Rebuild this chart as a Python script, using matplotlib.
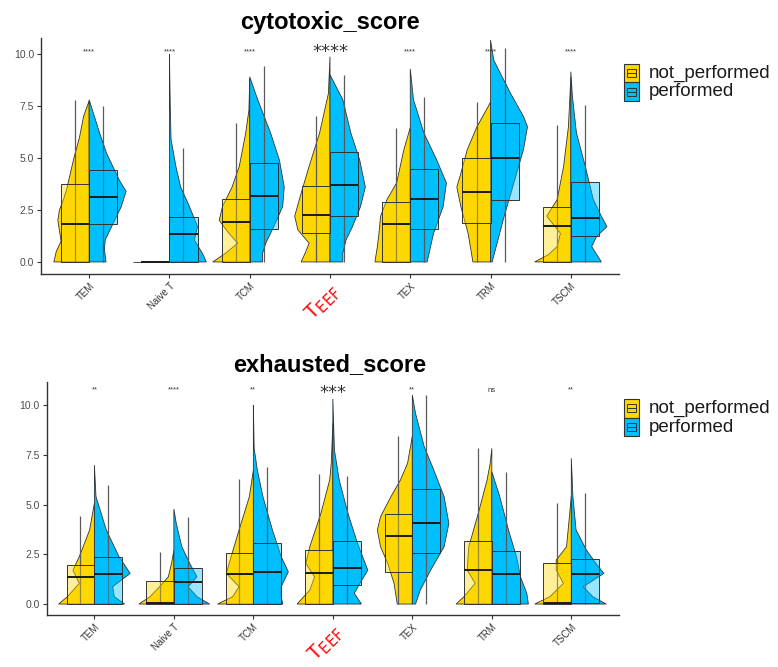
import matplotlib
matplotlib.use("Agg")
import matplotlib.pyplot as plt
from matplotlib.patches import Polygon, Rectangle
from matplotlib.colors import to_rgba

plt.rcParams['font.family'] = ['Liberation Sans', 'DejaVu Sans']

cell_types = ["TEM", "Naive T", "TCM", "TEEF", "TEX", "TRM", "TSCM"]
groups = ["not_performed", "performed"]
group_colors = ["#FFD700", "#00BFFF"]

# box stats per cell type: [whisker_low, q1, median, q3, whisker_high]
cyto_np_box = [[0, 0, 1.83, 3.73, 7.79], [0, 0, 0, 0, 0], [0, 0, 1.91, 3.03, 6.67],
               [0, 1.38, 2.26, 3.67, 7.03], [0, 0, 1.81, 2.90, 6.46],
               [0, 1.89, 3.35, 4.98, 7.70], [0, 0, 1.75, 2.66, 6.59]]
cyto_p_box = [[0, 1.83, 3.14, 4.41, 7.50], [0, 0, 1.33, 2.16, 5.46], [0, 1.60, 3.19, 4.74, 9.44],
              [0, 2.23, 3.70, 5.27, 9.00], [0, 1.57, 3.03, 4.47, 7.95],
              [0, 3.00, 4.98, 6.70, 10.27], [0, 1.25, 2.13, 3.83, 7.55]]
exh_np_box = [[0, 0, 1.37, 1.94, 4.44], [0, 0, 0.03, 1.17, 2.61], [0, 0, 1.52, 2.55, 6.28],
              [0, 0, 1.57, 2.71, 6.53], [0, 1.62, 3.42, 4.51, 8.44],
              [0, 0, 1.71, 3.18, 7.82], [0, 0, 0.07, 2.04, 5.09]]
exh_p_box = [[0, 0, 1.51, 2.35, 5.96], [0, 0, 1.10, 1.83, 4.39], [0, 0, 1.62, 3.05, 6.90],
             [0, 0.97, 1.79, 3.18, 6.43], [0, 2.55, 4.09, 5.78, 10.50],
             [0, 0, 1.49, 2.68, 6.65], [0, 0.03, 1.49, 2.28, 5.60]]

# violin outlines: (score, density half-width)
cyto_np_violin = [
    [(0, .44), (.5, .41), (1.0, .35), (1.5, .37), (2.0, .39), (2.5, .37), (3.0, .32), (3.5, .28), (4.0, .25), (5.0, .19), (6.0, .12), (7.0, .07), (7.75, 0)],
    [(0, .45), (0, 0)],
    [(0, .46), (.42, .30), (.9, .15), (1.38, .26), (2.0, .38), (2.66, .34), (3.6, .22), (4.6, .13), (6.2, .05), (7.3, .01), (8.8, 0)],
    [(0, .36), (.42, .31), (.9, .26), (1.54, .40), (2.2, .44), (3.3, .36), (4.6, .26), (6.2, .13), (8.1, .02), (9.87, 0)],
    [(0, .44), (.74, .41), (1.38, .39), (2.2, .37), (3.0, .29), (3.8, .17), (5.4, .08), (6.46, 0)],
    [(0, .22), (1.38, .28), (2.66, .37), (3.6, .42), (4.26, .37), (5.4, .29), (6.5, .17), (7.47, .03), (7.7, 0)],
    [(0, .45), (.35, .28), (.74, .17), (1.38, .13), (2.2, .30), (3.0, .17), (4.6, .09), (6.5, .03), (8.9, 0)],
]
cyto_p_violin = [
    [(0, .21), (.6, .19), (1.06, .20), (1.7, .28), (2.66, .40), (3.4, .46), (3.9, .38), (5.2, .22), (6.2, .13), (7.8, 0)],
    [(0, .46), (.42, .41), (1.06, .31), (1.7, .35), (2.66, .25), (3.6, .14), (4.6, .08), (5.9, .02), (7.5, .01), (10.0, 0)],
    [(0, .16), (.42, .16), (.9, .20), (1.7, .30), (2.66, .41), (3.6, .43), (4.9, .37), (6.2, .26), (7.8, .10), (8.9, 0)],
    [(0, .16), (.42, .16), (1.06, .20), (1.7, .28), (2.66, .38), (3.6, .44), (4.9, .37), (6.2, .26), (7.8, .16), (9.0, 0)],
    [(0, .21), (1.38, .29), (2.66, .41), (3.8, .45), (4.9, .33), (6.2, .17), (7.8, .04), (9.28, 0)],
    [(0, .02), (2.2, .17), (3.8, .29), (5.4, .41), (6.5, .46), (7.0, .41), (8.1, .25), (9.7, .04), (10.67, 0)],
    [(0, .38), (.74, .26), (1.22, .32), (1.7, .45), (2.2, .38), (3.0, .28), (4.6, .18), (6.2, .07), (7.95, .02), (9.15, 0)],
]
exh_np_violin = [
    [(0, .45), (.37, .34), (1.04, .19), (1.7, .27), (2.38, .19), (3.72, .06), (5.06, 0)],
    [(0, .44), (.37, .30), (.87, .18), (1.37, .07), (2.04, .03), (2.7, 0)],
    [(0, .45), (.37, .26), (.87, .18), (1.54, .34), (2.38, .28), (3.72, .18), (5.4, .05), (6.73, 0)],
    [(0, .45), (.7, .29), (1.37, .23), (2.04, .34), (2.88, .29), (4.56, .15), (6.23, .04), (7.07, .02), (9.08, 0)],
    [(0, .19), (1.04, .23), (2.04, .31), (2.88, .40), (3.72, .44), (4.39, .40), (5.39, .27), (6.23, .15), (7.07, .06), (8.44, 0)],
    [(0, .45), (.37, .35), (1.04, .21), (1.71, .31), (2.88, .29), (4.56, .17), (6.23, .06), (7.07, .02), (7.82, 0)],
    [(0, .46), (.37, .27), (1.04, .10), (1.71, .19), (2.21, .19), (2.88, .06), (4.56, .02), (5.43, 0)],
]
exh_p_violin = [
    [(0, .38), (.37, .25), (.87, .23), (1.54, .45), (2.38, .31), (3.72, .15), (5.4, .02), (6.98, 0)],
    [(0, .45), (.37, .29), (.87, .18), (1.37, .29), (2.04, .20), (2.88, .10), (4.05, .03), (4.77, 0)],
    [(0, .37), (.37, .35), (.87, .35), (1.62, .44), (2.38, .35), (3.72, .24), (5.4, .12), (6.73, .05), (7.82, .01), (10.0, 0)],
    [(0, .36), (.54, .27), (1.04, .34), (1.7, .44), (3.05, .31), (4.56, .19), (6.23, .08), (7.74, .02), (10.3, 0)],
    [(0, .04), (.7, .10), (1.7, .23), (2.88, .40), (4.05, .46), (5.39, .40), (6.73, .27), (7.9, .15), (9.58, .04), (10.5, 0)],
    [(0, .46), (.54, .44), (1.37, .36), (2.38, .31), (3.72, .21), (5.4, .10), (6.65, 0)],
    [(0, .44), (.37, .27), (.87, .15), (1.54, .41), (2.04, .31), (2.71, .19), (3.72, .06), (5.4, .02), (7.32, 0)],
]

cyto_sig = ["****", "****", "****", "****", "****", "****", "****"]
exh_sig = ["**", "****", "**", "***", "**", "ns", "**"]

W, H = 778, 667
fig = plt.figure(figsize=(W / 100, H / 100), dpi=100)


def fpos(x, y):
    return x / W, 1 - y / H


def half_violin(ax, x0, prof, side, color):
    pts = [(x0, prof[0][0])] + [(x0 + side * w, y) for y, w in prof]
    ax.add_patch(Polygon(pts, closed=True, facecolor=color, edgecolor="#333333",
                         linewidth=0.6, zorder=1))


def half_box(ax, x0, st, side, color, bw=0.35):
    lo, q1, med, q3, hi = st
    xl = x0 - bw if side < 0 else x0
    xw = x0 + side * bw / 2
    ax.plot([xw, xw], [lo, hi], color="#5a5a5a", lw=0.9, zorder=2, solid_capstyle="butt")
    ax.add_patch(Rectangle((xl, q1), bw, q3 - q1, facecolor=to_rgba(color, 0.4),
                           edgecolor="#333333", linewidth=0.7, zorder=3))
    ax.plot([xl, xl + bw], [med, med], color="#1a1a1a", lw=1.4, zorder=4, solid_capstyle="butt")


def panel(rect, title, title_y, np_violin, p_violin, np_box, p_box, sig, sig_y, big_y, leg_y):
    ax = fig.add_axes(rect)
    for i in range(len(cell_types)):
        x0 = i + 1
        half_violin(ax, x0, np_violin[i], -1, group_colors[0])
        half_violin(ax, x0, p_violin[i], 1, group_colors[1])
        half_box(ax, x0, np_box[i], -1, group_colors[0])
        half_box(ax, x0, p_box[i], 1, group_colors[1])
        if cell_types[i] == "TEEF":
            ax.text(x0, big_y, sig[i], ha="center", va="center", fontsize=13,
                    color="#333333", family="DejaVu Sans")
        else:
            ax.text(x0, sig_y, sig[i], ha="center", va="center", fontsize=5.5, color="#333333")
    ax.set_xlim(0.4, 7.6)
    ax.set_xticks(range(1, len(cell_types) + 1))
    labels = [r"T$_{\rm EEF}$" if c == "TEEF" else c for c in cell_types]
    ax.set_xticklabels(labels, rotation=45, ha="right", rotation_mode="anchor",
                       fontsize=7, color="#333333")
    for lab, c in zip(ax.get_xticklabels(), cell_types):
        if c == "TEEF":
            lab.set_color("red")
            lab.set_fontsize(15)
    ax.set_yticks([0, 2.5, 5, 7.5, 10])
    ax.set_yticklabels(["0.0", "2.5", "5.0", "7.5", "10.0"], fontsize=7.5, color="#4d4d4d")
    ax.tick_params(length=3, width=0.8, color="#333333", pad=2)
    for s in ["top", "right"]:
        ax.spines[s].set_visible(False)
    for s in ["left", "bottom"]:
        ax.spines[s].set_color("#333333")
        ax.spines[s].set_linewidth(1.0)
    fx, fy = fpos(330, title_y)
    fig.text(fx, fy, title, ha="center", va="center", fontsize=17, fontweight="bold")

    # legend
    for k, (g, col) in enumerate(zip(groups, group_colors)):
        top = leg_y + k * 18.5
        x, y = fpos(624, top + 18.5)
        kw, kh = 15 / W, 18.5 / H
        fig.add_artist(Rectangle((x, y), kw, kh, transform=fig.transFigure,
                                 facecolor=col, edgecolor="#333333", linewidth=0.8))
        fig.add_artist(Rectangle((x + kw * 0.22, y + kh * 0.28), kw * 0.56, kh * 0.44,
                                 transform=fig.transFigure, facecolor="none",
                                 edgecolor="#333333", linewidth=0.7))
        fig.add_artist(plt.Line2D([x + kw * 0.22, x + kw * 0.78], [y + kh * 0.5] * 2,
                                  transform=fig.transFigure, color="#333333", lw=0.7))
        tx, ty = fpos(649, top + 9.5)
        fig.text(tx, ty, g, ha="left", va="center", fontsize=13.5, color="#1a1a1a")
    return ax


ax1 = panel([41 / W, 1 - 274 / H, 578 / W, 236 / H], "cytotoxic_score", 22,
            cyto_np_violin, cyto_p_violin, cyto_np_box, cyto_p_box, cyto_sig, 10.1, 10.1, 64)
ax1.set_ylim(-0.58, 10.77)
ax2 = panel([46.7 / W, 1 - 615 / H, 572.3 / W, 233.3 / H], "exhausted_score", 365,
            exh_np_violin, exh_p_violin, exh_np_box, exh_p_box, exh_sig, 10.75, 10.6, 399)
ax2.set_ylim(-0.55, 11.17)

fig.savefig("out.png", dpi=100)
